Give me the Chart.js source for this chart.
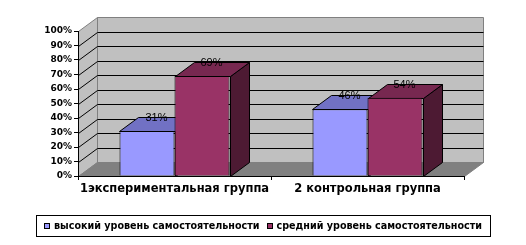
<!DOCTYPE html>
<html><head><meta charset="utf-8">
<script src="https://cdn.jsdelivr.net/npm/chart.js@4/dist/chart.umd.min.js"></script>
<style>html,body{margin:0;padding:0;background:#fff}canvas{display:block}</style>
</head><body>
<canvas id="c" width="526" height="245"></canvas>
<script>
const categories = ['1экспериментальная группа', '2 контрольная группа'];
const seriesNames = ['высокий уровень самостоятельности', 'средний уровень самостоятельности'];
const highLevel = [31, 46];
const midLevel = [69, 54];
const yMax = 100, yStep = 10;

const FONT = "'Liberation Sans', Arial, sans-serif";
const BFONT = "'DejaVu Sans', sans-serif";
const DX = 19, DY = -14;
const colors = [
  {front:'#9999FF', top:'#7171C4', side:'#5C5C99'},
  {front:'#993366', top:'#772850', side:'#4D1A33'}
];

function poly(ctx, pts, fill, stroke){
  ctx.beginPath();
  pts.forEach((p,i)=> i ? ctx.lineTo(p[0],p[1]) : ctx.moveTo(p[0],p[1]));
  ctx.closePath();
  if (fill){ ctx.fillStyle = fill; ctx.fill(); }
  if (stroke){ ctx.strokeStyle = stroke; ctx.lineWidth = 1; ctx.stroke(); }
}
const h = v => Math.round(v) + 0.5;

const wallPlugin = {
  id: 'walls',
  beforeDraw(chart){
    const {ctx, chartArea:a, scales:{y}} = chart;
    const L = h(a.left), R = h(a.right), T = a.top, B = h(a.bottom);
    ctx.save();
    poly(ctx, [[L+DX, h(T+DY)],[R+DX, h(T+DY)],[R+DX, B+DY],[L+DX, B+DY]], '#C0C0C0', '#808080');
    poly(ctx, [[L,B],[L,h(T)],[L+DX,h(T+DY)],[L+DX,B+DY]], '#C0C0C0', '#808080');
    poly(ctx, [[L,B],[R,B],[R+DX,B+DY],[L+DX,B+DY]], '#808080', '#808080');
    ctx.strokeStyle = '#000'; ctx.lineWidth = 1;
    y.ticks.forEach(t => {
      if (t.value === 0 || t.value === yMax) return;
      const py = y.getPixelForValue(t.value);
      ctx.beginPath();
      ctx.moveTo(L, h(py)); ctx.lineTo(L+DX, h(py+DY)); ctx.lineTo(R+DX, h(py+DY));
      ctx.stroke();
    });
    ctx.restore();
  },
  beforeDatasetsDraw(chart){
    const ctx = chart.ctx;
    ctx.save();
    chart.data.datasets.forEach((ds, di) => {
      const meta = chart.getDatasetMeta(di);
      meta.data.forEach(bar => {
        const l = h(bar.x - bar.width/2), r = h(bar.x + bar.width/2), t = h(bar.y), b = h(bar.base);
        poly(ctx, [[r,t],[r,b],[r+DX,b+DY],[r+DX,t+DY]], colors[di].side, '#000');
        poly(ctx, [[l,t],[r,t],[r+DX,t+DY],[l+DX,t+DY]], colors[di].top, '#000');
      });
    });
    ctx.restore();
  },
  afterDatasetsDraw(chart){
    const ctx = chart.ctx;
    ctx.save();
    ctx.font = '11px ' + FONT;
    ctx.fillStyle = '#000';
    ctx.textAlign = 'center';
    ctx.textBaseline = 'middle';
    chart.data.datasets.forEach((ds, di) => {
      chart.getDatasetMeta(di).data.forEach((bar, i) => {
        ctx.fillText(ds.data[i] + '%', bar.x + DX/2, bar.y + DY + 1);
      });
    });
    ctx.restore();
  },
  afterDraw(chart){
    const ctx = chart.ctx;
    ctx.save();
    const bx = 36, by = 215, bw = 454, bh = 21;
    ctx.strokeStyle = '#000'; ctx.lineWidth = 1;
    ctx.strokeRect(bx + 0.5, by + 0.5, bw, bh);
    ctx.font = 'bold 9.6px ' + BFONT;
    ctx.textBaseline = 'middle';
    const cy = by + bh/2 + 0.5;
    const m = 6, gap = 4, sep = 7;
    const widths = chart.data.datasets.map(ds => ctx.measureText(ds.label).width);
    const total = widths.reduce((s,w)=>s+w,0) + 2*(m+gap) + sep;
    let x = bx + (bw - total)/2;
    chart.data.datasets.forEach((ds, di) => {
      ctx.fillStyle = ds.backgroundColor;
      ctx.fillRect(Math.round(x), Math.round(cy - m/2), m, m);
      ctx.strokeStyle = '#000';
      ctx.strokeRect(Math.round(x)+0.5, Math.round(cy - m/2)+0.5, m-1, m-1);
      x += m + gap;
      ctx.fillStyle = '#000';
      ctx.fillText(ds.label, x, cy);
      x += widths[di] + sep;
    });
    ctx.restore();
  }
};

new Chart(document.getElementById('c'), {
  type: 'bar',
  data: {
    labels: categories,
    datasets: [
      {label: seriesNames[0], data: highLevel, backgroundColor: colors[0].front, borderColor: '#000', borderWidth: 1},
      {label: seriesNames[1], data: midLevel, backgroundColor: colors[1].front, borderColor: '#000', borderWidth: 1}
    ]
  },
  options: {
    responsive: false,
    animation: false,
    devicePixelRatio: 1,
    categoryPercentage: 0.57,
    barPercentage: 1,
    layout: {padding: {top: 31, right: 62, bottom: 0, left: 0}},
    plugins: {legend: {display: false}, tooltip: {enabled: false}},
    scales: {
      x: {
        grid: {drawOnChartArea: false, drawTicks: true, tickLength: 4, color: '#000', offset: true},
        border: {display: true, color: '#000', width: 1},
        ticks: {color: '#000', font: {family: BFONT, size: 11.5, weight: 'bold'}, padding: 2, maxRotation: 0, autoSkip: false},
        afterFit(s){ s.height = 69; }
      },
      y: {
        min: 0, max: yMax,
        grid: {drawOnChartArea: false, drawTicks: true, tickLength: 4, color: '#000'},
        border: {display: true, color: '#000', width: 1},
        ticks: {stepSize: yStep, color: '#000', font: {family: BFONT, size: 9, weight: 'bold'}, padding: 2, callback: v => v + '%'},
        afterFit(s){ s.width = 78; }
      }
    }
  },
  plugins: [wallPlugin]
});
</script>
</body></html>
